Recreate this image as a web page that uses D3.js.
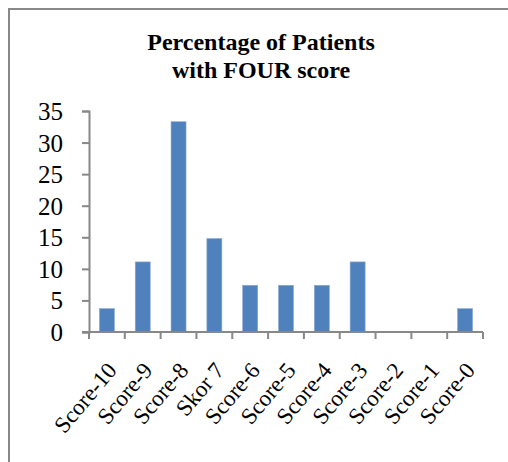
<!DOCTYPE html>
<html>
<head>
<meta charset="utf-8">
<script src="https://cdn.jsdelivr.net/npm/d3@7"></script>
<style>
  body { margin: 0; background: #fff; }
  svg { display: block; font-family: "Liberation Serif", "Times New Roman", serif; }
</style>
</head>
<body>
<svg id="chart" width="508" height="462"></svg>
<script>
const categories = ["Score-10", "Score-9", "Score-8", "Skor 7", "Score-6", "Score-5", "Score-4", "Score-3", "Score-2", "Score-1", "Score-0"];
const percentages = [3.7, 11.1, 33.3, 14.8, 7.4, 7.4, 7.4, 11.1, 0, 0, 3.7];
const yTicks = [0, 5, 10, 15, 20, 25, 30, 35];
const titleLines = ["Percentage of Patients", "with FOUR score"];

const svg = d3.select("#chart");

// chart frame
svg.append("rect")
  .attr("x", 9).attr("y", 9)
  .attr("width", 520).attr("height", 480)
  .attr("fill", "none")
  .attr("stroke", "#888")
  .attr("stroke-width", 2);

const title = svg.append("text")
  .attr("text-anchor", "middle")
  .attr("font-weight", "bold")
  .attr("font-size", 24);
title.selectAll("tspan")
  .data(titleLines)
  .join("tspan")
  .attr("x", 261)
  .attr("y", (d, i) => 50 + i * 28)
  .text((d) => d);

const margin = { left: 89, right: 25, top: 111, bottom: 130 };
const xBand = d3.scaleBand().domain(categories).range([margin.left, 508 - margin.right]);
const y = d3.scaleLinear().domain([0, 35]).range([462 - margin.bottom, margin.top]);

svg.append("g")
  .selectAll("rect")
  .data(percentages)
  .join("rect")
  .attr("x", (d, i) => xBand(categories[i]) + xBand.bandwidth() / 2 - 7.5)
  .attr("width", 15)
  .attr("y", (d) => y(d))
  .attr("height", (d) => y(0) - y(d))
  .attr("fill", "#4F81BD")
  .attr("stroke", "#8eaad6")
  .attr("stroke-width", 0.6);

// y axis
const yAxis = svg.append("g")
  .attr("transform", `translate(${margin.left},0)`)
  .call(d3.axisLeft(y).tickValues(yTicks).tickSize(7).tickPadding(19));
yAxis.select(".domain").attr("stroke", "#888").attr("stroke-width", 2);
yAxis.selectAll(".tick line").attr("stroke", "#888").attr("stroke-width", 2);
yAxis.selectAll("text").attr("font-size", 25).attr("fill", "#000").attr("font-family", "Liberation Serif").attr("dy", "0.34em");

// x axis line and ticks at band boundaries
const x0 = y(0);
const xr = xBand.range();
svg.append("line")
  .attr("x1", xr[0] - 7).attr("x2", xr[1])
  .attr("y1", x0).attr("y2", x0)
  .attr("stroke", "#888").attr("stroke-width", 2);
const bounds = categories.map((c) => xBand(c)).concat([xr[1]]);
svg.append("g")
  .selectAll("line")
  .data(bounds)
  .join("line")
  .attr("x1", (d) => d).attr("x2", (d) => d)
  .attr("y1", x0).attr("y2", x0 + 7)
  .attr("stroke", "#888").attr("stroke-width", 2);

svg.append("g")
  .selectAll("text")
  .data(categories)
  .join("text")
  .attr("transform", (d) => `translate(${xBand(d) + xBand.bandwidth() / 2 + 11},${x0 + 39}) rotate(-50)`)
  .attr("text-anchor", "end")
  .attr("font-size", 23)
  .text((d) => d);
</script>
</body>
</html>
